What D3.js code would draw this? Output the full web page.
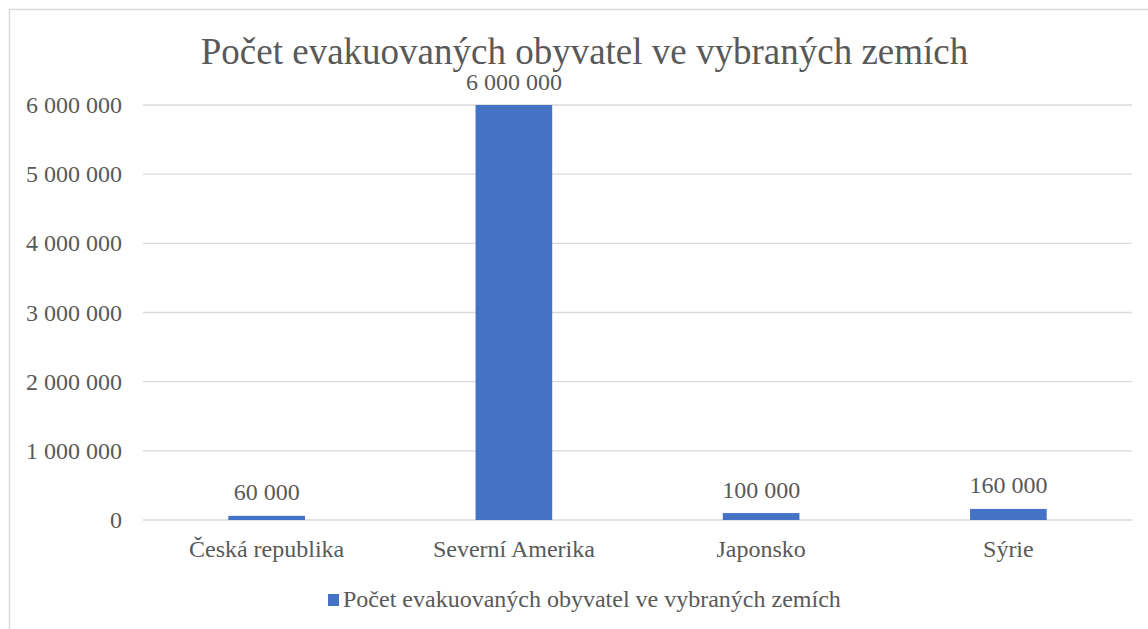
<!DOCTYPE html>
<html><head><meta charset="utf-8">
<script src="https://cdn.jsdelivr.net/npm/d3@7"></script>
<style>body{margin:0;background:#fff}svg{display:block}</style>
</head><body>
<script>
const categories = ["Česká republika", "Severní Amerika", "Japonsko", "Sýrie"];
const values = [60000, 6000000, 100000, 160000];
const tickValues = [0, 1000000, 2000000, 3000000, 4000000, 5000000, 6000000];
const title = "Počet evakuovaných obyvatel ve vybraných zemích";
const seriesName = "Počet evakuovaných obyvatel ve vybraných zemích";

(function () {
const W = 1148, H = 629;
const svg = d3.select("body").append("svg").attr("width", W).attr("height", H)
  .attr("font-family", "'Liberation Serif', 'Times New Roman', serif");
svg.append("rect").attr("x", 9.5).attr("y", 9.5).attr("width", W + 10).attr("height", H + 10)
  .attr("fill", "#fff").attr("stroke", "#d9d9d9").attr("stroke-width", 1.5);

const pL = 143, pR = 1132, pT = 105, pB = 520;
const x = d3.scaleBand().domain(categories).range([pL, pR]).padding(0);
const y = d3.scaleLinear().domain([0, 6000000]).range([pB, pT]);
const fmt = v => d3.format(",")(v).replace(/,/g, " ");
const col = "#595959";

svg.append("g").selectAll("line").data(tickValues).join("line")
  .attr("x1", pL).attr("x2", pR).attr("y1", d => y(d)).attr("y2", d => y(d))
  .attr("stroke", "#d9d9d9").attr("stroke-width", 1.3);

svg.append("g").selectAll("text").data(tickValues).join("text")
  .attr("x", 122).attr("y", d => y(d) + 8).attr("text-anchor", "end")
  .attr("font-size", 24).attr("fill", col).text(fmt);

const bw = x.bandwidth() * 0.31;
svg.append("g").selectAll("rect").data(values).join("rect")
  .attr("x", (d, i) => x(categories[i]) + x.bandwidth() / 2 - bw / 2)
  .attr("width", bw)
  .attr("y", d => y(d)).attr("height", d => y(0) - y(d))
  .attr("fill", "#4472c4");

svg.append("g").selectAll("text").data(values).join("text")
  .attr("x", (d, i) => x(categories[i]) + x.bandwidth() / 2)
  .attr("y", d => y(d) - 15.5).attr("text-anchor", "middle")
  .attr("font-size", 24).attr("fill", col).text(fmt);

svg.append("g").selectAll("text").data(categories).join("text")
  .attr("x", d => x(d) + x.bandwidth() / 2).attr("y", 557).attr("text-anchor", "middle")
  .attr("font-size", 24).attr("fill", col).text(d => d);

svg.append("text").attr("x", 584.5).attr("y", 64).attr("text-anchor", "middle")
  .attr("font-size", 37).attr("fill", col).text(title);

const lg = svg.append("g");
lg.append("rect").attr("x", 328).attr("y", 594).attr("width", 11).attr("height", 12).attr("fill", "#4472c4");
lg.append("text").attr("x", 343).attr("y", 607).attr("font-size", 24).attr("fill", col).text(seriesName);
})();
</script>
</body></html>
